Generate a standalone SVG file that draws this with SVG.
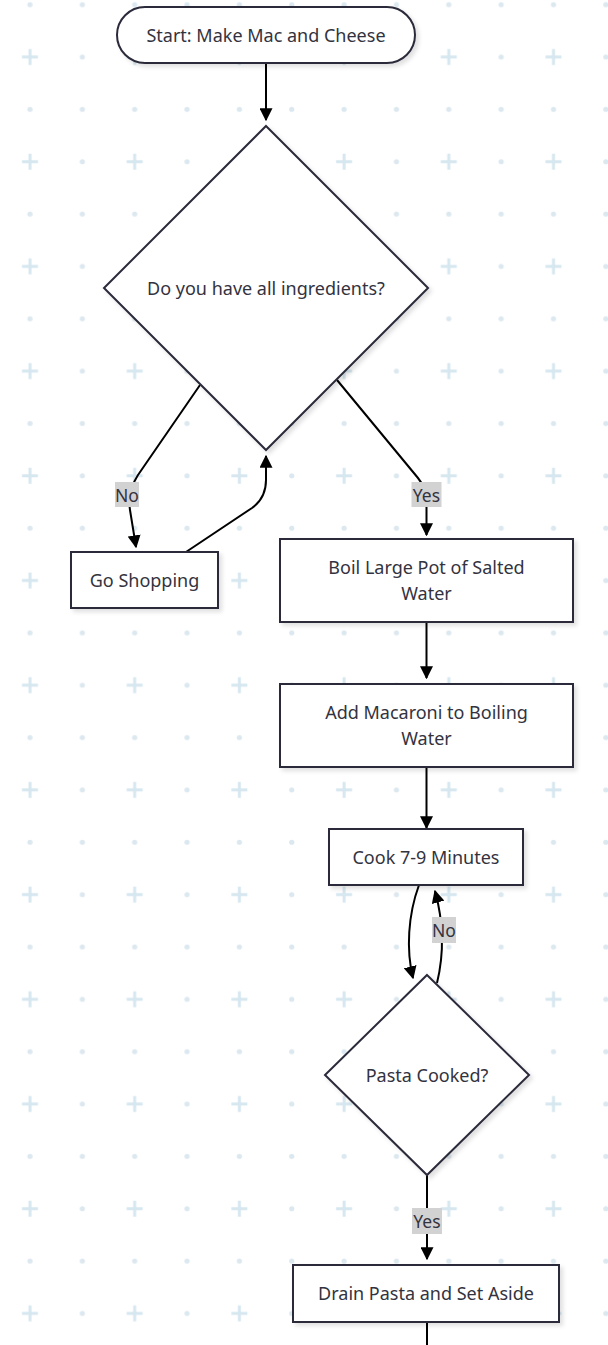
<svg xmlns="http://www.w3.org/2000/svg" width="608" height="1345" viewBox="0 0 608 1345">
  <defs>
    <pattern id="bg" patternUnits="userSpaceOnUse" x="3.825" y="-21.525" width="104.7" height="104.7">
      <circle cx="26.175" cy="26.175" r="2.6" fill="#dce8ef"/>
      <circle cx="78.525" cy="26.175" r="2.6" fill="#dce8ef"/>
      <circle cx="78.525" cy="78.525" r="2.6" fill="#dce8ef"/>
      <path d="M18.175 78.525 H34.175 M26.175 70.525 V86.525" stroke="#d6e7f0" stroke-width="3"/>
    </pattern>
    <marker id="arrow" viewBox="0 0 10 10" refX="9" refY="5" markerWidth="13" markerHeight="13" markerUnits="userSpaceOnUse" orient="auto">
      <path d="M0,0 L10,5 L0,10 Z" fill="#000"/>
    </marker>
    <filter id="shadow" x="-10%" y="-10%" width="130%" height="130%">
      <feDropShadow dx="3" dy="3" stdDeviation="2" flood-color="#000" flood-opacity="0.12"/>
    </filter>
    <style>
      .node { fill: #ffffff; stroke: #2b2b3b; stroke-width: 2; filter: url(#shadow); }
      .label { font-family: "Noto Sans", "Open Sans", sans-serif; font-size: 18px; fill: #333340; text-anchor: middle; dominant-baseline: central; }
      .edge { fill: none; stroke: #000; stroke-width: 2; }
      .elabel-bg { fill: #d2d2d2; }
      .elabel { font-family: "Noto Sans", "Open Sans", sans-serif; font-size: 17.5px; fill: #333340; text-anchor: middle; dominant-baseline: central; }
    </style>
  </defs>

  <rect x="0" y="0" width="608" height="1345" fill="#ffffff"/>
  <rect x="0" y="0" width="608" height="1345" fill="url(#bg)"/>

  <g id="connectors">
    <path class="edge" d="M266,63 L266,120" marker-end="url(#arrow)"/>
    <path class="edge" d="M200,385 L138,475 Q127,492 130,510 L136,547" marker-end="url(#arrow)"/>
    <path class="edge" d="M186,552 L252,508 Q266,498 266,480 L266,456" marker-end="url(#arrow)"/>
    <path class="edge" d="M337,380 L418,478 Q426,488 426.5,500 L426.5,535" marker-end="url(#arrow)"/>
    <path class="edge" d="M426.5,622 L426.5,678" marker-end="url(#arrow)"/>
    <path class="edge" d="M426.5,767 L426.5,828" marker-end="url(#arrow)"/>
    <path class="edge" d="M419,885 C408,915 406,950 413,978" marker-end="url(#arrow)"/>
    <path class="edge" d="M437,983 C445,950 443,920 435,891" marker-end="url(#arrow)"/>
    <path class="edge" d="M427,1175 L427,1259" marker-end="url(#arrow)"/>
    <path class="edge" d="M427,1322 L427,1345"/>

    <g id="label-no-1">
      <rect class="elabel-bg" x="115" y="482" width="24" height="25"/>
      <text class="elabel" x="127" y="494.5">No</text>
    </g>
    <g id="label-yes-1">
      <rect class="elabel-bg" x="411.5" y="482" width="30" height="25"/>
      <text class="elabel" x="426.5" y="494.5">Yes</text>
    </g>
    <g id="label-no-2">
      <rect class="elabel-bg" x="432" y="917" width="24" height="26"/>
      <text class="elabel" x="444" y="930">No</text>
    </g>
    <g id="label-yes-2">
      <rect class="elabel-bg" x="412" y="1208" width="30" height="26"/>
      <text class="elabel" x="427" y="1221">Yes</text>
    </g>
  </g>

  <g id="start">
    <rect class="node" x="117" y="7" width="298" height="56" rx="28" ry="28"/>
    <text class="label" x="266" y="35">Start: Make Mac and Cheese</text>
  </g>

  <g id="check-ingredients">
    <polygon class="node" points="266,126 428,288 266,450 104,288"/>
    <text class="label" x="266" y="288">Do you have all ingredients?</text>
  </g>

  <g id="go-shopping">
    <rect class="node" x="71" y="552" width="147" height="56"/>
    <text class="label" x="144.5" y="580">Go Shopping</text>
  </g>

  <g id="boil-water">
    <rect class="node" x="280" y="539" width="293" height="83"/>
    <text class="label" x="426.5" y="567">Boil Large Pot of Salted</text>
    <text class="label" x="426.5" y="593">Water</text>
  </g>

  <g id="add-macaroni">
    <rect class="node" x="280" y="684" width="293" height="83"/>
    <text class="label" x="426.5" y="712">Add Macaroni to Boiling</text>
    <text class="label" x="426.5" y="738">Water</text>
  </g>

  <g id="cook">
    <rect class="node" x="329" y="829" width="194" height="56"/>
    <text class="label" x="426" y="857">Cook 7-9 Minutes</text>
  </g>

  <g id="pasta-cooked">
    <polygon class="node" points="427,975 529,1075 427,1175 325,1075"/>
    <text class="label" x="427" y="1075">Pasta Cooked?</text>
  </g>

  <g id="drain">
    <rect class="node" x="293" y="1265" width="266" height="57"/>
    <text class="label" x="426" y="1293">Drain Pasta and Set Aside</text>
  </g>
</svg>
